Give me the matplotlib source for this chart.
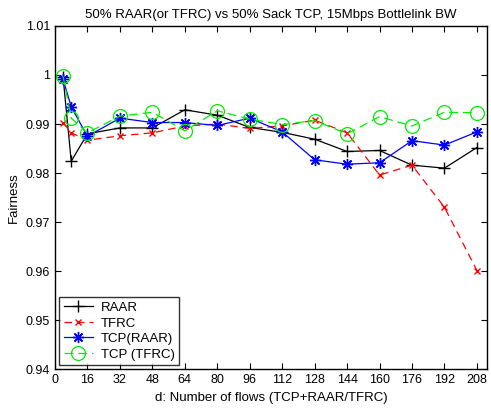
import matplotlib
matplotlib.use("Agg")
import matplotlib.pyplot as plt

plt.rcParams['font.family'] = ['Liberation Sans', 'DejaVu Sans']

flows = [4, 8, 16, 32, 48, 64, 80, 96, 112, 128, 144, 160, 176, 192, 208]
raar = [0.9995, 0.9824, 0.9880, 0.9892, 0.9892, 0.9929, 0.9918, 0.9893, 0.9883, 0.9869, 0.9844, 0.9846, 0.9816, 0.9810, 0.9852]
tfrc = [0.9903, 0.9882, 0.9867, 0.9876, 0.9882, 0.9896, 0.9900, 0.9891, 0.9896, 0.9908, 0.9882, 0.9796, 0.9816, 0.9730, 0.9601]
tcp_raar = [0.9991, 0.9935, 0.9875, 0.9912, 0.9903, 0.9903, 0.9897, 0.9912, 0.9884, 0.9827, 0.9818, 0.9821, 0.9866, 0.9857, 0.9884]
tcp_tfrc = [0.9997, 0.9912, 0.9882, 0.9916, 0.9924, 0.9886, 0.9927, 0.9910, 0.9899, 0.9907, 0.9880, 0.9915, 0.9896, 0.9924, 0.9923]

xticks = list(range(0, 209, 16))
yticks = [0.94, 0.95, 0.96, 0.97, 0.98, 0.99, 1.00, 1.01]
ylabels = ['0.94', '0.95', '0.96', '0.97', '0.98', '0.99', '1', '1.01']

fig = plt.figure(figsize=(4.91, 4.12), dpi=100)
ax = fig.add_axes([0.112, 0.104, 0.880, 0.833])

ax.plot(flows, raar, color='black', linestyle='-', marker='+', markersize=9, linewidth=0.9, label='RAAR')
ax.plot(flows, tfrc, color='#ff0000', linestyle=(0, (6, 4)), marker='x', markersize=5, linewidth=0.9, label='TFRC')
ax.plot(flows, tcp_raar, color='#0000ff', linestyle='-', marker=(8, 2, 0), markersize=8,
        markeredgewidth=1.0, linewidth=0.9, label='TCP(RAAR)')
ax.plot(flows, tcp_tfrc, color='#00ee00', linestyle=(0, (7, 4)), marker='o', markersize=10,
        markerfacecolor='none', markeredgewidth=0.9, linewidth=0.9, label='TCP (TFRC)')

ax.set_xlim(0, 213)
ax.set_ylim(0.94, 1.01)
ax.set_xticks(xticks)
ax.set_yticks(yticks)
ax.set_yticklabels(ylabels)
ax.tick_params(direction='in', top=True, right=True, labelsize=9, length=4, width=0.8)
for s in ax.spines.values():
    s.set_linewidth(1.0)

ax.set_title('50% RAAR(or TFRC) vs 50% Sack TCP, 15Mbps Bottlelink BW', fontsize=9.5, pad=6)
ax.set_xlabel('d: Number of flows (TCP+RAAR/TFRC)', fontsize=9.5, labelpad=4)
ax.set_ylabel('Fairness', fontsize=9.5, labelpad=4)

leg = ax.legend(loc='lower left', fontsize=9.5, frameon=True, fancybox=False, edgecolor='black',
                borderpad=0.35, labelspacing=0.25, handlelength=2.2, handletextpad=0.6,
                borderaxespad=0.3)
leg.get_frame().set_linewidth(1.0)

fig.savefig('out.png', dpi=100)
